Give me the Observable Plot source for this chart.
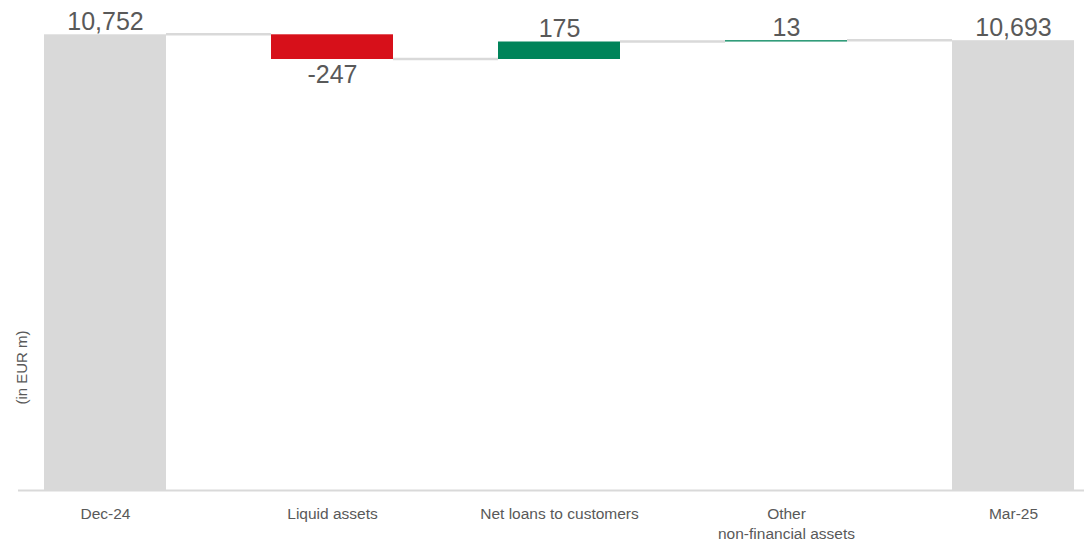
<!DOCTYPE html>
<html><head><meta charset="utf-8">
<script src="https://cdn.jsdelivr.net/npm/d3@7"></script>
<script src="https://cdn.jsdelivr.net/npm/@observablehq/plot@0.6"></script>
<style>html,body{margin:0;padding:0;background:#fff;overflow:hidden} svg{display:block}</style>
</head><body><div id="chart"></div>
<script>
// ---- data ----
const categories = ["Dec-24", "Liquid assets", "Net loans to customers", "Other\nnon-financial assets", "Mar-25"];
const values = [10752, -247, 175, 13, 10693];
const kinds = ["total", "delta", "delta", "delta", "total"];
const yDomain = [6195, 11095];
const yLabel = "(in EUR m)";
const palette = {total: "#d9d9d9", neg: "#d7101a", pos: "#00845a"};

// ---- derived waterfall table ----
let running = 0;
const rows = categories.map((c, i) => {
  let y1, y2;
  if (kinds[i] === "total") { y1 = yDomain[0]; y2 = values[i]; running = values[i]; }
  else { y1 = running; y2 = running + values[i]; running = y2; }
  const color = kinds[i] === "total" ? palette.total : values[i] < 0 ? palette.neg : palette.pos;
  return {category: c, value: values[i], kind: kinds[i], y1, y2,
          top: Math.max(y1, y2), bottom: Math.min(y1, y2), end: running, color,
          label: values[i].toLocaleString("en-US")};
});
const links = rows.slice(0, -1).map((r, i) => ({from: r.category, to: rows[i + 1].category, level: r.end}));

const connectors = (index, scales) => {
  const x = scales.x, y = scales.y;
  let bw = typeof x.bandwidth === "function" ? x.bandwidth() : x.bandwidth;
  if (bw == null && scales.scales && scales.scales.x) bw = scales.scales.x.bandwidth;
  const g = d3.create("svg:g");
  for (const l of links) {
    g.append("line")
      .attr("x1", x(l.from) + bw).attr("x2", x(l.to))
      .attr("y1", y(l.level)).attr("y2", y(l.level))
      .attr("stroke", "#d9d9d9").attr("stroke-width", 2.5);
  }
  return g.node();
};

const chart = Plot.plot({
  width: 1084, height: 542,
  marginLeft: 43, marginRight: 10, marginTop: 0, marginBottom: 52,
  style: {fontFamily: "'Liberation Sans', Arial, sans-serif", color: "#595959", background: "#fff"},
  x: {domain: categories, paddingInner: 0.464, paddingOuter: 0, label: null},
  y: {domain: yDomain, axis: null},
  marks: [
    Plot.ruleY([yDomain[0]], {stroke: "#d9d9d9", strokeWidth: 2, insetLeft: -25, insetRight: -10}),
    connectors,
    Plot.barY(rows, {x: "category", y1: "y1", y2: "y2", fill: "color"}),
    Plot.text(rows.filter(d => d.value >= 0), {x: "category", y: "top", text: "label", fontSize: 25, fill: "#595959", lineAnchor: "bottom", dy: -5}),
    Plot.text(rows.filter(d => d.value < 0), {x: "category", y: "bottom", text: "label", fontSize: 25, fill: "#595959", lineAnchor: "top", dy: 6}),
    Plot.axisX({tickSize: 0, tickPadding: 14, fontSize: 15.5, lineHeight: 1.3, fill: "#595959", label: null}),
    Plot.text([yLabel], {frameAnchor: "left", textAnchor: "middle", rotate: -90, dx: -21, dy: 122, fontSize: 15, fill: "#595959"})
  ]
});
document.getElementById("chart").append(chart);
</script>
</body></html>
